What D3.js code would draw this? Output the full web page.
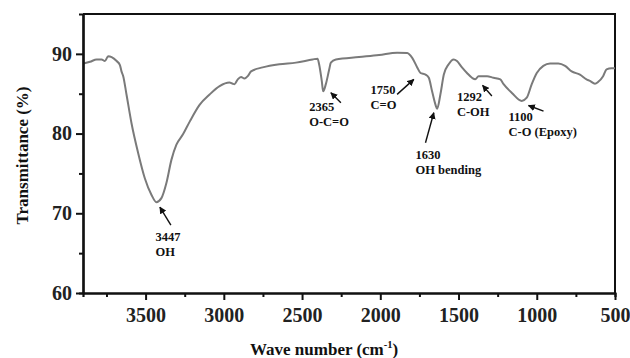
<!DOCTYPE html>
<html><head><meta charset="utf-8">
<script src="https://cdn.jsdelivr.net/npm/d3@7"></script>
<style>html,body{margin:0;padding:0;background:#fff;}svg{display:block;}</style>
</head><body>
<svg id="chart" width="630" height="358"></svg>
<script>
// ---- data ----
const wavenumber = [3898,3855,3813,3781,3760,3739,3717,3685,3664,3654,3643,3622,3590,3548,3505,3462,3431,3399,3367,3335,3303,3261,3218,3155,3091,3027,2964,2943,2932,2911,2890,2868,2847,2826,2752,2645,2539,2433,2401,2391,2374,2365,2348,2327,2316,2284,2136,2008,1892,1828,1796,1764,1743,1711,1690,1669,1647,1637,1616,1594,1563,1531,1510,1478,1446,1414,1393,1372,1318,1276,1233,1212,1159,1096,1064,1032,1000,958,915,862,819,777,724,682,660,628,607,576,554,522,500];
const transmittance = [88.8,89.0,89.3,89.3,89.1,89.7,89.6,89.1,88.6,87.8,87.2,84.9,81.3,77.6,74.4,72.3,71.4,71.9,73.8,76.7,78.6,79.9,81.5,83.6,84.9,85.95,86.4,86.25,86.2,86.8,87.1,86.9,87.2,87.8,88.3,88.7,88.9,89.3,89.4,88.7,86.6,85.3,86.2,88.0,88.9,89.3,89.6,89.85,90.15,90.1,89.5,88.3,87.6,87.4,87.0,85.3,83.6,83.1,84.9,87.4,88.7,89.3,89.1,88.3,87.6,87.0,86.8,87.2,87.2,87.0,86.8,86.2,85.1,84.1,84.5,86.2,87.6,88.5,88.8,88.8,88.5,87.8,87.4,86.8,86.6,86.25,86.5,87.2,88.05,88.2,88.2];
const xMajorTicks = [3500,3000,2500,2000,1500,1000,500];
const xMinorTicks = [3750,3250,2750,2250,1750,1250,750];
const yMajorTicks = [60,70,80,90];
const yMinorTicks = [65,75,85];
const peakWn = [3447,2365,1750,1630,1292,1100];
const peakT = [71.4,85.3,87.6,83.1,87.1,84.1];
const peakLine1 = ["3447","2365","1750","1630","1292","1100"];
const peakLine2 = ["OH","O-C=O","C=O","OH bending","C-OH","C-O (Epoxy)"];
const peakAnchorWn = [3447,2365,1750,1637,1292,1100];
const xTitle = "Wave number (cm";
const yTitle = "Transmittance (%)";

// ---- layout (pixel offsets from the peak point) ----
const annoLayout = [
  {head:[6,5], tail:[17,23], text:[1.6,39.3]},
  {head:[7.7,1.4], tail:[17.7,11.4], text:[-14,19.8]},
  {head:[-5.6,6.4], tail:[-22.3,21.4], text:[-48.9,21.4]},
  {head:[-3.3,3.9], tail:[-11.6,33.9], text:[-21.6,50.6]},
  {head:[-8.5,8.4], tail:[0.8,19.1], text:[-34.2,24.1]},
  {head:[7.4,4.6], tail:[22.4,10.3], text:[-12.6,20.3]}
];

const svg = d3.select("#chart");
const m = {left:83, right:615, top:14, bottom:293};
const x = d3.scaleLinear().domain([3900,500]).range([m.left,m.right]);
const y = d3.scaleLinear().domain([60,95]).range([m.bottom,m.top]);
const font = "'Liberation Serif','Times New Roman',serif";

// frame (top & right)
svg.append("path")
  .attr("d", `M${m.left},${m.top}H${m.right}V${m.bottom}`)
  .attr("fill","none").attr("stroke","#111").attr("stroke-width",2);

// curve
const pts = wavenumber.map((w,i)=>[w,transmittance[i]]);
svg.append("path")
  .datum(pts)
  .attr("fill","none")
  .attr("stroke","#7a7a7a")
  .attr("stroke-width",2)
  .attr("stroke-linejoin","round")
  .attr("d", d3.line().x(d=>x(d[0])).y(d=>y(d[1])).curve(d3.curveMonotoneX));

// axes
function styleAxis(g){
  g.select(".domain").attr("stroke","#111").attr("stroke-width",2.2);
  g.selectAll(".tick line").attr("stroke","#111").attr("stroke-width",2);
  g.selectAll("text").attr("font-family",font).attr("font-weight","bold")
    .attr("font-size",20).attr("fill","#222");
}
const gxMinor = svg.append("g").attr("transform",`translate(0,${m.bottom})`)
  .call(d3.axisBottom(x).tickValues(xMinorTicks).tickSize(4).tickFormat(""));
styleAxis(gxMinor);
const gx = svg.append("g").attr("transform",`translate(0,${m.bottom})`)
  .call(d3.axisBottom(x).tickValues(xMajorTicks).tickSize(7).tickPadding(8).tickSizeOuter(0).tickFormat(d3.format("d")));
styleAxis(gx);
const gyMinor = svg.append("g").attr("transform",`translate(${m.left},0)`)
  .call(d3.axisLeft(y).tickValues(yMinorTicks).tickSize(4).tickFormat(""));
styleAxis(gyMinor);
const gy = svg.append("g").attr("transform",`translate(${m.left},0)`)
  .call(d3.axisLeft(y).tickValues(yMajorTicks).tickSize(7).tickPadding(4).tickSizeOuter(0).tickFormat(d3.format("d")));
styleAxis(gy);

// axis titles
const xt = svg.append("text").attr("x",250).attr("y",355)
  .attr("font-family",font).attr("font-weight","bold").attr("font-size",17).attr("fill","#111");
xt.append("tspan").text(xTitle);
xt.append("tspan").attr("font-size",10.5).attr("dy",-7).text("-1");
xt.append("tspan").attr("dy",7).text(")");

svg.append("text")
  .attr("transform","translate(28,155.5) rotate(-90)")
  .attr("text-anchor","middle")
  .attr("font-family",font).attr("font-weight","bold").attr("font-size",17).attr("fill","#111")
  .text(yTitle);

// arrowhead marker
svg.append("defs").append("marker")
  .attr("id","ah").attr("viewBox","0 0 10 10").attr("refX",9).attr("refY",5)
  .attr("markerWidth",7).attr("markerHeight",7).attr("markerUnits","userSpaceOnUse")
  .attr("orient","auto")
  .append("path").attr("d","M0,0L10,5L0,10Z").attr("fill","#111");

// annotations
peakWn.forEach((w,i)=>{
  const px = x(peakAnchorWn[i]), py = y(peakT[i]);
  const L = annoLayout[i];
  svg.append("line")
    .attr("x1",px+L.tail[0]).attr("y1",py+L.tail[1])
    .attr("x2",px+L.head[0]).attr("y2",py+L.head[1])
    .attr("stroke","#111").attr("stroke-width",1.4).attr("marker-end","url(#ah)");
  const t = svg.append("text").attr("font-family",font).attr("font-weight","bold")
    .attr("font-size",12.5).attr("fill","#111");
  t.append("tspan").attr("x",px+L.text[0]).attr("y",py+L.text[1]).text(peakLine1[i]);
  t.append("tspan").attr("x",px+L.text[0]).attr("y",py+L.text[1]+15).text(peakLine2[i]);
});
</script>
</body></html>
